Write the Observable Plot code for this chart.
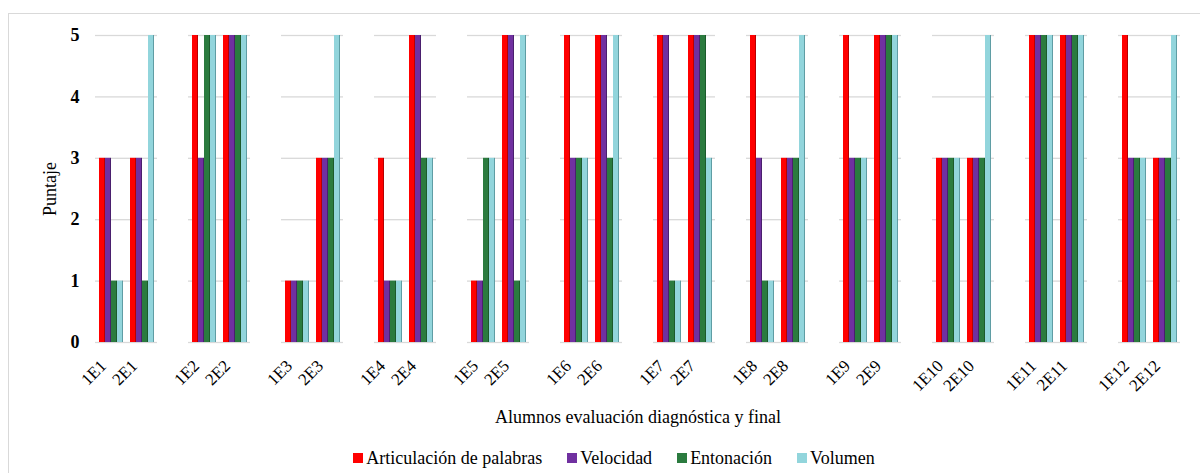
<!DOCTYPE html>
<html>
<head>
<meta charset="utf-8">
<script src="https://cdn.jsdelivr.net/npm/d3@7"></script>
<script src="https://cdn.jsdelivr.net/npm/@observablehq/plot@0.6"></script>
<style>
  html, body { margin: 0; padding: 0; background: #fff; }
  #wrap { position: relative; width: 1200px; height: 473px; overflow: hidden; }
  #frame { position: absolute; left: 8px; top: 13px; width: 1300px; height: 600px; border-left: 1px solid #d9d9d9; border-top: 1px solid #d9d9d9; }
  #chart { position: absolute; left: 0; top: 0; }
  #legend { position: absolute; left: 0; width: 1228px; top: 447px; display: flex; justify-content: center; gap: 25px; font-size: 18px; color: #000; line-height: 22px; }
  #legend .item { display: flex; align-items: center; }
  #legend .sw { width: 10px; height: 10px; margin-right: 3px; }
</style>
</head>
<body>
<div id="wrap">
  <div id="frame"></div>
  <div id="chart"></div>
  <div id="legend"></div>
</div>
<script>
const categories = ["1E1","2E1","1E2","2E2","1E3","2E3","1E4","2E4","1E5","2E5","1E6","2E6",
                    "1E7","2E7","1E8","2E8","1E9","2E9","1E10","2E10","1E11","2E11","1E12","2E12"];
const series = ["Articulación de palabras", "Velocidad", "Entonación", "Volumen"];
const articulacion = [3,3,5,5,1,3,3,5,1,5,5,5,5,5,5,3,5,5,3,3,5,5,5,3];
const velocidad    = [3,3,3,5,1,3,1,5,1,5,3,5,5,5,3,3,3,5,3,3,5,5,3,3];
const entonacion   = [1,1,5,5,1,3,1,3,3,1,3,3,1,5,1,3,3,5,3,3,5,5,3,3];
const volumen      = [1,5,5,5,1,5,1,3,3,5,3,5,1,3,1,5,3,5,3,5,5,5,3,5];
const yTicks = [0,1,2,3,4,5];
const colors = ["#FF0000", "#7030A0", "#2B7B3F", "#92D5DC"];
const darks  = ["#B80000", "#4A1F6E", "#1C5A2C", "#5F9DA4"];
const FONT = '"Liberation Serif", serif';

const values = [articulacion, velocidad, entonacion, volumen];
const data = [];
categories.forEach((c, i) => series.forEach((s, j) => data.push({cat: c, serie: s, value: values[j][i]})));

// band domain with spacer slots between student pairs
const fxDomain = [];
for (let i = 0; i < categories.length; i += 2) {
  fxDomain.push(categories[i], categories[i + 1]);
  if (i + 2 < categories.length) fxDomain.push("_" + i);
}
const gradOf = Object.fromEntries(series.map((s, j) => [s, `url(#g${j})`]));

const chart = Plot.plot({
  width: 1200,
  height: 430,
  marginTop: 35,
  marginBottom: 88,
  marginLeft: 92,
  marginRight: 18,
  style: {fontFamily: FONT, fontSize: "17px", color: "#000", background: "transparent"},
  fx: {
    domain: fxDomain, padding: 0, axis: "bottom",
    label: "Alumnos evaluación diagnóstica y final", labelAnchor: "center", labelOffset: 80, labelArrow: "none",
    tickRotate: -45, tickSize: 0, tickPadding: 20,
    tickFormat: d => d.startsWith("_") ? "" : d
  },
  x: {domain: series, paddingInner: 0, paddingOuter: 0.55, axis: null},
  y: {domain: [0, 5], axis: null},
  color: {type: "identity"},
  marks: [
    Plot.ruleY(yTicks, {stroke: "#d9d9d9", strokeWidth: 1.3}),
    Plot.barY(data, {fx: "cat", x: "serie", y: "value", fill: d => gradOf[d.serie]}),
    Plot.axisY(yTicks, {facetAnchor: "left", anchor: "left", tickSize: 0, tickPadding: 16, tickFormat: "d",
                        label: "Puntaje", labelAnchor: "center", labelOffset: 52, labelArrow: "none"})
  ]
});

// gradient definitions for the shaded bar look
const ns = "http://www.w3.org/2000/svg";
const defs = document.createElementNS(ns, "defs");
colors.forEach((c, j) => {
  const g = document.createElementNS(ns, "linearGradient");
  g.setAttribute("id", "g" + j);
  g.setAttribute("x1", "0"); g.setAttribute("x2", "1"); g.setAttribute("y1", "0"); g.setAttribute("y2", "0");
  [[0, c], [0.78, c], [0.8, darks[j]], [1, darks[j]]].forEach(([o, col]) => {
    const st = document.createElementNS(ns, "stop");
    st.setAttribute("offset", o);
    st.setAttribute("stop-color", col);
    g.appendChild(st);
  });
  defs.appendChild(g);
});
chart.insertBefore(defs, chart.firstChild);

// typography applied directly on each text element
const styleTexts = (sel, size, weight) => chart.querySelectorAll(sel).forEach(t => {
  t.style.fontFamily = FONT; t.style.fontSize = size; t.style.fontWeight = weight; t.style.fill = "#000";
});
styleTexts("text", "17px", "normal");
styleTexts('g[aria-label="y-axis tick label"] text', "18px", "bold");
styleTexts('g[aria-label="y-axis label"] text', "18px", "normal");
styleTexts('g[aria-label="fx-axis label"] text', "18px", "normal");
chart.querySelectorAll('g[aria-label="fx-axis tick label"] text').forEach(t => {
  t.setAttribute("dx", "-5");
  const tr = t.getAttribute("transform") || "";
  t.setAttribute("transform", "translate(-4,-3) " + tr);
});
document.getElementById("chart").appendChild(chart);

const legend = document.getElementById("legend");
series.forEach((s, j) => {
  const item = document.createElement("div");
  item.className = "item";
  const sw = document.createElement("span");
  sw.className = "sw";
  sw.style.background = colors[j];
  const tx = document.createElement("span");
  tx.textContent = s;
  tx.style.fontFamily = FONT;
  tx.style.fontSize = "18px";
  item.appendChild(sw);
  item.appendChild(tx);
  legend.appendChild(item);
});
</script>
</body>
</html>
